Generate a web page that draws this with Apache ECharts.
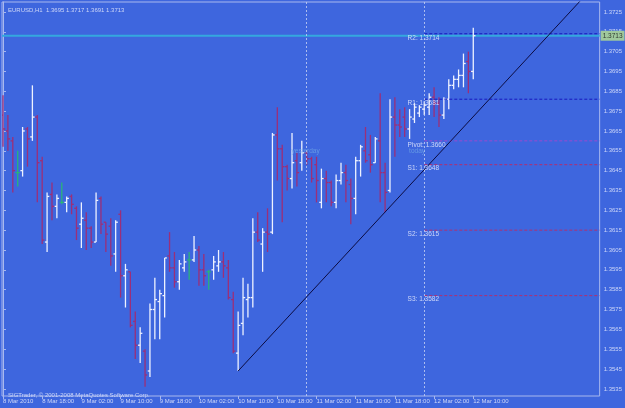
<!DOCTYPE html>
<html>
<head>
<meta charset="utf-8">
<script src="https://cdn.jsdelivr.net/npm/echarts@6/dist/echarts.min.js"></script>
<style>
  html, body { margin: 0; padding: 0; background: #3e66de; }
  #main { width: 625px; height: 408px; }
</style>
</head>
<body>
<div id="main"></div>
<script>
// EURUSD H1, bars from 8 Mar 10:00 (index 0) to 12 Mar 10:00 (index 96)
var opens = [
  1.3673, 1.3665, 1.3660, 1.3644, 1.3645, 1.3666, 1.3662, 1.3672, 1.3650, 1.3609,
  1.3633, 1.3627, 1.3629, 1.3629, 1.3632, 1.3626, 1.3618, 1.3620, 1.3616, 1.3609,
  1.3631, 1.3619, 1.3617, 1.3603, 1.3623, 1.3592, 1.3594, 1.3569, 1.3557, 1.3554,
  1.3544, 1.3575, 1.3579, 1.3582, 1.3602, 1.3596, 1.3589, 1.3596, 1.3600, 1.3600,
  1.3605, 1.3595, 1.3594, 1.3595, 1.3597, 1.3599, 1.3596, 1.3580, 1.3553, 1.3568,
  1.3580, 1.3581, 1.3614, 1.3608, 1.3614, 1.3614, 1.3663, 1.3656, 1.3647, 1.3641,
  1.3650, 1.3649, 1.3654, 1.3651, 1.3648, 1.3629, 1.3641, 1.3639, 1.3629, 1.3640,
  1.3644, 1.3638, 1.3631, 1.3650, 1.3655, 1.3653, 1.3649, 1.3660, 1.3644, 1.3635,
  1.3672, 1.3668, 1.3672, 1.3666, 1.3671, 1.3674, 1.3676, 1.3677, 1.3682, 1.3679,
  1.3673, 1.3681, 1.3688, 1.3691, 1.3693, 1.3700, 1.3695
];
var highs = [
  1.3683, 1.3673, 1.3662, 1.3655, 1.3667, 1.3667, 1.3688, 1.3673, 1.3652, 1.3634,
  1.3639, 1.3633, 1.3639, 1.3632, 1.3633, 1.3627, 1.3629, 1.3624, 1.3617, 1.3634,
  1.3632, 1.3619, 1.3621, 1.3620, 1.3625, 1.3598, 1.3594, 1.3574, 1.3566, 1.3555,
  1.3578, 1.3591, 1.3585, 1.3601, 1.3614, 1.3604, 1.3600, 1.3603, 1.3604, 1.3612,
  1.3607, 1.3603, 1.3595, 1.3602, 1.3605, 1.3604, 1.3600, 1.3584, 1.3574, 1.3591,
  1.3588, 1.3621, 1.3624, 1.3616, 1.3626, 1.3664, 1.3677, 1.3658, 1.3648, 1.3664,
  1.3654, 1.3660, 1.3655, 1.3652, 1.3652, 1.3646, 1.3645, 1.3640, 1.3643, 1.3649,
  1.3648, 1.3641, 1.3652, 1.3658, 1.3667, 1.3663, 1.3662, 1.3684, 1.3649, 1.3681,
  1.3682, 1.3676, 1.3677, 1.3676, 1.3679, 1.3678, 1.3680, 1.3684, 1.3687, 1.3682,
  1.3682, 1.3691, 1.3693, 1.3696, 1.3704, 1.3705, 1.3717
];
var lows = [
  1.3657, 1.3655, 1.3634, 1.3637, 1.3642, 1.3647, 1.3660, 1.3629, 1.3608, 1.3604,
  1.3620, 1.3621, 1.3628, 1.3624, 1.3623, 1.3610, 1.3606, 1.3605, 1.3606, 1.3609,
  1.3613, 1.3604, 1.3597, 1.3594, 1.3581, 1.3576, 1.3566, 1.3550, 1.3548, 1.3536,
  1.3541, 1.3560, 1.3560, 1.3571, 1.3594, 1.3586, 1.3585, 1.3594, 1.3590, 1.3599,
  1.3587, 1.3587, 1.3585, 1.3590, 1.3594, 1.3591, 1.3580, 1.3553, 1.3544, 1.3562,
  1.3571, 1.3576, 1.3609, 1.3594, 1.3604, 1.3613, 1.3640, 1.3619, 1.3635, 1.3636,
  1.3637, 1.3645, 1.3648, 1.3639, 1.3629, 1.3626, 1.3629, 1.3627, 1.3626, 1.3638,
  1.3629, 1.3618, 1.3623, 1.3642, 1.3649, 1.3644, 1.3649, 1.3629, 1.3624, 1.3634,
  1.3652, 1.3662, 1.3662, 1.3661, 1.3669, 1.3672, 1.3673, 1.3673, 1.3672, 1.3667,
  1.3671, 1.3676, 1.3686, 1.3687, 1.3687, 1.3684, 1.3691
];
var closes = [
  1.3666, 1.3661, 1.3645, 1.3644, 1.3665, 1.3661, 1.3672, 1.3649, 1.3610, 1.3632,
  1.3627, 1.3631, 1.3629, 1.3631, 1.3628, 1.3616, 1.3621, 1.3616, 1.3609, 1.3630,
  1.3618, 1.3613, 1.3602, 1.3619, 1.3592, 1.3595, 1.3567, 1.3557, 1.3563, 1.3542,
  1.3575, 1.3580, 1.3583, 1.3601, 1.3596, 1.3589, 1.3598, 1.3599, 1.3600, 1.3605,
  1.3595, 1.3592, 1.3594, 1.3599, 1.3599, 1.3597, 1.3581, 1.3554, 1.3567, 1.3581,
  1.3581, 1.3614, 1.3610, 1.3614, 1.3613, 1.3663, 1.3656, 1.3647, 1.3641, 1.3649,
  1.3644, 1.3654, 1.3651, 1.3641, 1.3640, 1.3641, 1.3639, 1.3629, 1.3640, 1.3644,
  1.3640, 1.3631, 1.3650, 1.3657, 1.3650, 1.3648, 1.3661, 1.3644, 1.3634, 1.3672,
  1.3668, 1.3667, 1.3666, 1.3672, 1.3677, 1.3677, 1.3678, 1.3682, 1.3679, 1.3673,
  1.3681, 1.3688, 1.3691, 1.3693, 1.3699, 1.3695, 1.3713
];

// time axis labels (bar index -> label)
var timeTickIdx = [0, 8, 16, 24, 32, 40, 48, 56, 64, 72, 80, 88, 96];
var timeTickText = ['8 Mar 2010', '8 Mar 18:00', '9 Mar 02:00', '9 Mar 10:00', '9 Mar 18:00',
  '10 Mar 02:00', '10 Mar 10:00', '10 Mar 18:00', '11 Mar 02:00', '11 Mar 10:00',
  '11 Mar 18:00', '12 Mar 02:00', '12 Mar 10:00'];
var priceTicks = [1.3535, 1.3545, 1.3555, 1.3565, 1.3575, 1.3585, 1.3595, 1.3605, 1.3615, 1.3625,
  1.3635, 1.3645, 1.3655, 1.3665, 1.3675, 1.3685, 1.3695, 1.3705, 1.3715, 1.3725];

// pivot levels for today
var pivotNames = ['R2', 'R1', 'Pivot', 'S1', 'S2', 'S3'];
var pivotValues = [1.3714, 1.3681, 1.3660, 1.3648, 1.3615, 1.3582];
var dayStarts = [62, 86];          // 11 Mar 00:00, 12 Mar 00:00
var dayNames = ['yesterday', 'today'];
var dayNamePos = [[58.9, 1.3655], [82.9, 1.3655]];
var trendPoints = [[48, 1.3544], [121, 1.3739]];
var bid = 1.3713;

var upColor = '#eef2ff';
var downColor = '#9c2f78';
var dojiColor = '#2ab27a';
var pivotColors = ['#1818c0', '#1818c0', '#9a4ad0', '#b03070', '#b03070', '#b03070'];
var txtColor = '#cdd6f8';
var frameColor = '#a8b8ee';
var font = 'Liberation Sans';

var bars = opens.map(function (o, i) {
  return [i, o, highs[i], lows[i], closes[i]];
});

var chart = echarts.init(document.getElementById('main'));

var series = [
  {
    type: 'custom',
    name: 'bars',
    clip: true,
    encode: { x: 0, y: [1, 2, 3, 4] },
    data: bars,
    renderItem: function (params, api) {
      var h = api.value(0);
      var o = api.coord([h, api.value(1)]);
      var hi = api.coord([h, api.value(2)]);
      var lo = api.coord([h, api.value(3)]);
      var c = api.coord([h, api.value(4)]);
      var x = hi[0];
      var col = api.value(4) > api.value(1) ? upColor : (api.value(4) < api.value(1) ? downColor : dojiColor);
      var st = { stroke: col, lineWidth: 1.3 };
      return {
        type: 'group',
        children: [
          { type: 'line', shape: { x1: x, y1: hi[1], x2: x, y2: lo[1] }, style: st },
          { type: 'line', shape: { x1: x - 2.2, y1: o[1], x2: x, y2: o[1] }, style: st },
          { type: 'line', shape: { x1: x, y1: c[1], x2: x + 2.2, y2: c[1] }, style: st }
        ]
      };
    },
    markLine: {
      silent: true,
      symbol: 'none',
      label: { show: false },
      lineStyle: { color: '#c8d2f2', type: [2, 2], width: 1, opacity: 0.8 },
      data: dayStarts.map(function (d) { return { xAxis: d }; })
    },
    z: 3
  },
  {
    type: 'line',
    name: 'bid',
    data: [[-0.2, bid], [121.8, bid]],
    showSymbol: false,
    lineStyle: { color: '#34a8de', width: 2 },
    endLabel: {
      show: true,
      distance: 1,
      formatter: function (p) { return p.value[1].toFixed(4); },
      backgroundColor: '#9fc89c',
      color: '#303a30',
      fontFamily: font,
      fontSize: 6.5,
      padding: [2, 2, 1, 2]
    },
    z: 2
  },
  {
    type: 'line',
    name: 'trend',
    data: trendPoints,
    showSymbol: false,
    clip: true,
    lineStyle: { color: '#0c0c40', width: 1 },
    z: 4
  }
];

pivotValues.forEach(function (v, i) {
  series.push({
    type: 'line',
    name: pivotNames[i],
    data: [[dayStarts[1], v], [121.8, v]],
    showSymbol: false,
    lineStyle: { color: pivotColors[i], width: 1, type: [3, 2] },
    z: 3
  });
});

series.push({
  type: 'scatter',
  name: 'pivotLabels',
  symbolSize: 0,
  data: pivotValues.map(function (v, i) { return [82.6, v, pivotNames[i]]; }),
  label: {
    show: true,
    position: 'right',
    distance: 0,
    offset: [0, 4],
    formatter: function (p) { return p.value[2] + ': ' + p.value[1].toFixed(4); },
    color: '#eef0ff',
    fontFamily: font,
    fontSize: 6.5
  },
  z: 5
});

series.push({
  type: 'scatter',
  name: 'dayLabels',
  symbolSize: 0,
  data: dayNamePos.map(function (p, i) { return [p[0], p[1], dayNames[i]]; }),
  label: {
    show: true,
    position: 'right',
    distance: 0,
    formatter: function (p) { return p.value[2]; },
    color: '#6fa6e6',
    fontFamily: font,
    fontSize: 6.5
  },
  z: 5
});

var option = {
  backgroundColor: '#3e66de',
  animation: false,
  title: [
    {
      text: 'EURUSD,H1  1.3695 1.3717 1.3691 1.3713',
      left: 3, top: 2,
      textStyle: { color: txtColor, fontSize: 6, fontWeight: 'normal', fontFamily: font }
    },
    {
      text: 'SIGTrader, © 2001-2008 MetaQuotes Software Corp.',
      left: 3, top: 387,
      textStyle: { color: txtColor, fontSize: 6, fontWeight: 'normal', fontFamily: font }
    }
  ],
  grid: { left: 2, right: 24, top: 2, bottom: 12, show: true, borderColor: frameColor, borderWidth: 1 },
  xAxis: {
    type: 'value',
    min: -0.2,
    max: 121.8,
    splitLine: { show: false },
    axisLine: { show: false },
    axisTick: { show: true, customValues: timeTickIdx, length: 3, lineStyle: { color: frameColor } },
    axisLabel: {
      customValues: timeTickIdx,
      formatter: function (v) { return timeTickText[timeTickIdx.indexOf(v)] || ''; },
      align: 'left',
      margin: 2,
      color: txtColor,
      fontFamily: font,
      fontSize: 6
    }
  },
  yAxis: {
    type: 'value',
    position: 'right',
    min: 1.35314,
    max: 1.37300,
    splitLine: { show: false },
    axisLine: { show: true, lineStyle: { color: frameColor } },
    axisTick: { show: true, customValues: priceTicks, length: 3, lineStyle: { color: frameColor } },
    axisLabel: {
      customValues: priceTicks,
      formatter: function (v) { return v.toFixed(4); },
      margin: 4,
      color: txtColor,
      fontFamily: font,
      fontSize: 6
    }
  },
  series: series
};

chart.setOption(option);
</script>
</body>
</html>
